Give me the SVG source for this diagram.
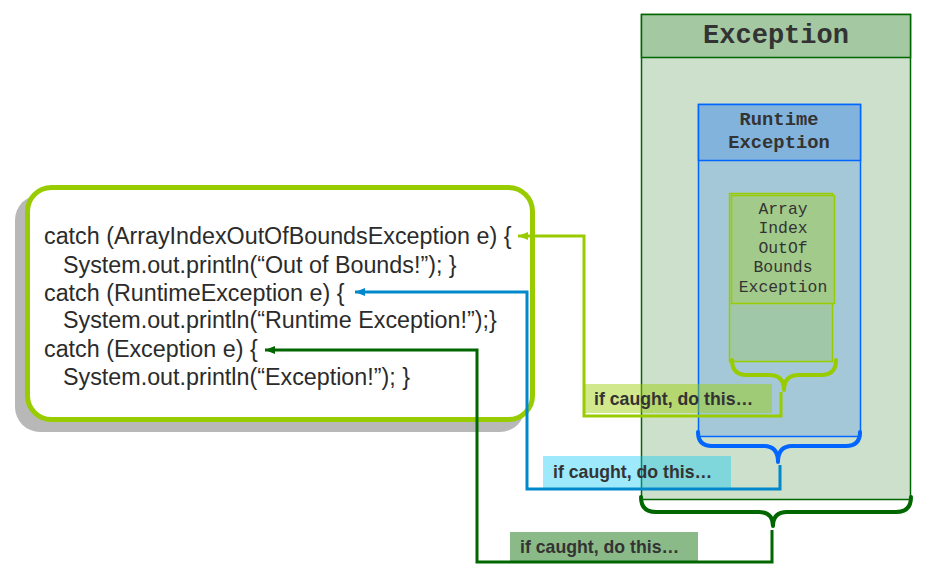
<svg xmlns="http://www.w3.org/2000/svg" width="945" height="573" viewBox="0 0 945 573">
<style>
.code{font-family:"Liberation Sans",Arial,sans-serif;font-size:23.3px;fill:#2b2b2b}
.lbl{font-family:"Liberation Sans",Arial,sans-serif;font-size:17.7px;font-weight:bold;fill:#333}
.mono{font-family:"Liberation Mono","Courier New",monospace;font-weight:bold;fill:#333;text-anchor:middle}
.brace{fill:none;stroke-width:4;stroke-linecap:round;stroke-linejoin:round}
.conn{fill:none;stroke-width:3}
</style>
<defs>
<marker id="aLime" viewBox="0 0 10 8" refX="10" refY="4" markerWidth="10" markerHeight="8" markerUnits="userSpaceOnUse" orient="auto"><path d="M0,0 L10,4 L0,8 z" fill="#99cc00"/></marker>
<marker id="aBlue" viewBox="0 0 10 8" refX="10" refY="4" markerWidth="10" markerHeight="8" markerUnits="userSpaceOnUse" orient="auto"><path d="M0,0 L10,4 L0,8 z" fill="#0088cc"/></marker>
<marker id="aGreen" viewBox="0 0 10 8" refX="10" refY="4" markerWidth="10" markerHeight="8" markerUnits="userSpaceOnUse" orient="auto"><path d="M0,0 L10,4 L0,8 z" fill="#006600"/></marker>
</defs>
<rect width="945" height="573" fill="#fff"/>

<g id="code-box">
<rect x="15" y="195" width="510" height="237" rx="25" fill="#b8b8b8"/>
<rect x="27.5" y="187.5" width="505" height="232" rx="24" fill="#fff" stroke="#99cc00" stroke-width="5"/>
<text class="code" x="44" y="244">catch (ArrayIndexOutOfBoundsException e) {</text>
<text class="code" x="63" y="273">System.out.println(“Out of Bounds!”); }</text>
<text class="code" x="44" y="301">catch (RuntimeException e) {</text>
<text class="code" x="63" y="328">System.out.println(“Runtime Exception!”);}</text>
<text class="code" x="44" y="357">catch (Exception e) {</text>
<text class="code" x="63" y="385">System.out.println(“Exception!”); }</text>
</g>

<g id="exception">
<rect x="641.5" y="14.5" width="269" height="485" fill="#cde0cc" stroke="#006600" stroke-width="1.5"/>
<rect x="641.5" y="14.5" width="269" height="43" fill="#a3c8a2" stroke="#006600" stroke-width="1.5"/>
<text class="mono" x="776" y="43" font-size="27">Exception</text>
</g>

<g id="runtime-exception">
<rect x="698.5" y="104.5" width="162" height="332" fill="#a4c8d8" stroke="#0066ff" stroke-width="1.5"/>
<rect x="698.5" y="104.5" width="162" height="56" fill="#82b3dc" stroke="#0066ff" stroke-width="1.5"/>
<text class="mono" x="779" y="125" font-size="18.8">Runtime</text>
<text class="mono" x="779" y="148" font-size="18.8">Exception</text>
</g>

<g id="array-exception">
<rect x="729.5" y="193.5" width="103" height="168" fill="#a0c8a8" stroke="#99cc00" stroke-width="1.5"/>
<rect x="731.5" y="195.5" width="103" height="108" fill="#a2ca8a" stroke="#99cc00" stroke-width="1.5"/>
<g class="mono" font-size="16.4" style="font-weight:normal">
<text x="783" y="214">Array</text>
<text x="783" y="233">Index</text>
<text x="783" y="253">OutOf</text>
<text x="783" y="272">Bounds</text>
<text x="783" y="292">Exception</text>
</g>
</g>

<g id="braces">
<path class="brace" stroke="#99cc00" d="M732,360 Q732,375 747,375 L769,375 Q784,375 784,390 Q784,375 799,375 L821,375 Q836,375 836,360"/>
<path class="brace" stroke="#0066ff" d="M698,432 Q698,446 712,446 L764,446 Q778,446 778,462 Q778,446 792,446 L846,446 Q860,446 860,432"/>
<path class="brace" stroke="#006600" d="M641,497 Q641,512 656,512 L759,512 Q773,512 773,526 Q773,512 787,512 L896,512 Q911,512 911,497"/>
</g>

<g id="labels-bg">
<rect x="583" y="384" width="189" height="29" fill="#99cc00" fill-opacity="0.45"/>
<rect x="543" y="456" width="188" height="32" fill="#00c4f5" fill-opacity="0.38"/>
<rect x="510" y="532" width="188" height="29" fill="#8aba88"/>
</g>

<g id="connectors">
<path class="conn" stroke="#99cc00" d="M781,392 L781,416 L584,416 L584,236 L518,236" marker-end="url(#aLime)"/>
<path class="conn" stroke="#0088cc" d="M780,465 L780,489 L527,489 L527,292 L355,292" marker-end="url(#aBlue)"/>
<path class="conn" stroke="#006600" d="M772,530 L772,562 L477,562 L477,350 L265,350" marker-end="url(#aGreen)"/>
</g>

<g id="labels">
<text class="lbl" x="594" y="405">if caught, do this…</text>
<text class="lbl" x="553" y="478">if caught, do this…</text>
<text class="lbl" x="520" y="553">if caught, do this…</text>
</g>
</svg>
